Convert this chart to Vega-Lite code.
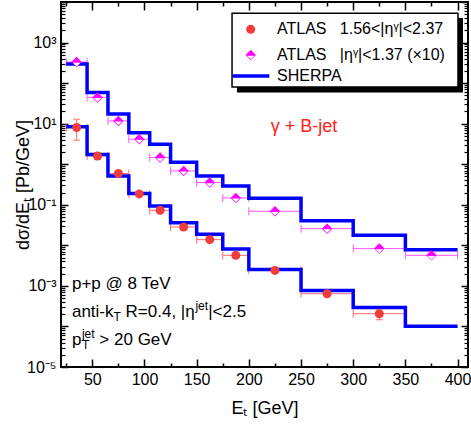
{
  "$schema": "https://vega.github.io/schema/vega-lite/v6.json",
  "width": 407,
  "height": 365,
  "autosize": {"type": "none"},
  "padding": {"left": 61, "top": 2, "right": 3, "bottom": 62},
  "background": "white",
  "config": {
    "view": {"stroke": "black", "strokeWidth": 2},
    "font": "Liberation Sans",
    "axis": {"grid": false, "domain": false, "labelFont": "Liberation Sans", "titleFont": "Liberation Sans", "labelColor": "black", "titleColor": "black", "tickColor": "black", "titleFontWeight": "normal"}
  },
  "datasets": {
    "bins": [
      {"lo": 25, "hi": 45, "mid": 35, "cen": 330, "cen_lo": 300, "cen_hi": 365, "fwd": 8.05, "fwd_lo": 3.92, "fwd_hi": 12.9},
      {"lo": 45, "hi": 65, "mid": 55, "cen": 44.4, "cen_lo": 41, "cen_hi": 48, "fwd": 1.6, "fwd_lo": 1.3, "fwd_hi": 1.9},
      {"lo": 65, "hi": 85, "mid": 75, "cen": 11.7, "cen_lo": 10.8, "cen_hi": 12.6, "fwd": 0.589, "fwd_lo": 0.52, "fwd_hi": 0.66},
      {"lo": 85, "hi": 105, "mid": 95, "cen": 4.14, "cen_lo": 3.8, "cen_hi": 4.5, "fwd": 0.185, "fwd_lo": 0.168, "fwd_hi": 0.203},
      {"lo": 105, "hi": 125, "mid": 115, "cen": 1.46, "cen_lo": 1.34, "cen_hi": 1.58, "fwd": 0.0731, "fwd_lo": 0.066, "fwd_hi": 0.081},
      {"lo": 125, "hi": 150, "mid": 137.5, "cen": 0.684, "cen_lo": 0.63, "cen_hi": 0.74, "fwd": 0.0283, "fwd_lo": 0.025, "fwd_hi": 0.032},
      {"lo": 150, "hi": 175, "mid": 162.5, "cen": 0.353, "cen_lo": 0.325, "cen_hi": 0.382, "fwd": 0.0138, "fwd_lo": 0.0124, "fwd_hi": 0.0152},
      {"lo": 175, "hi": 200, "mid": 187.5, "cen": 0.147, "cen_lo": 0.135, "cen_hi": 0.159, "fwd": 0.00566, "fwd_lo": 0.0051, "fwd_hi": 0.0062},
      {"lo": 200, "hi": 250, "mid": 225, "cen": 0.0692, "cen_lo": 0.064, "cen_hi": 0.075, "fwd": 0.00241, "fwd_lo": 0.00222, "fwd_hi": 0.0026},
      {"lo": 250, "hi": 300, "mid": 275, "cen": 0.0258, "cen_lo": 0.0235, "cen_hi": 0.0282, "fwd": 0.000641, "fwd_lo": 0.00058, "fwd_hi": 0.0007},
      {"lo": 300, "hi": 350, "mid": 325, "cen": 0.0083, "cen_lo": 0.0071, "cen_hi": 0.0097, "fwd": 0.000206, "fwd_lo": 0.000146, "fwd_hi": 0.000273},
      {"lo": 350, "hi": 400, "mid": 375, "cen": 0.00566, "cen_lo": 0.0050, "cen_hi": 0.0064, "fwd": null, "fwd_lo": null, "fwd_hi": null}
    ],
    "steps": [
      {"E": 25, "up": 294, "dn": 8.34},
      {"E": 45, "up": 58.9, "dn": 1.74},
      {"E": 65, "up": 17.2, "dn": 0.514},
      {"E": 85, "up": 5.93, "dn": 0.189},
      {"E": 105, "up": 3.12, "dn": 0.0933},
      {"E": 125, "up": 1.12, "dn": 0.0361},
      {"E": 150, "up": 0.514, "dn": 0.0187},
      {"E": 175, "up": 0.291, "dn": 0.00811},
      {"E": 200, "up": 0.1445, "dn": 0.00255},
      {"E": 250, "up": 0.0405, "dn": 0.000774},
      {"E": 300, "up": 0.01766, "dn": 0.000294},
      {"E": 350, "up": 0.00783, "dn": 0.0001016},
      {"E": 400, "up": 0.00783, "dn": 0.0001016}
    ],
    "one": [{}]
  },
  "resolve": {"scale": {"x": "shared", "y": "shared"}, "axis": {"x": "independent", "y": "independent"}},
  "layer": [
    {
      "data": {"name": "bins"},
      "mark": {"type": "rule", "color": "#ff6b6b", "strokeWidth": 1},
      "encoding": {
        "x": {"field": "lo", "type": "quantitative", "scale": {"domain": [20, 410], "nice": false, "zero": false},
          "axis": {"orient": "bottom", "values": [50, 100, 150, 200, 250, 300, 350, 400], "tickSize": -8, "tickWidth": 1.5, "labelFontSize": 16, "labelPadding": 12, "title": "Eₜ [GeV]", "titleFontSize": 18, "titlePadding": 12}},
        "x2": {"field": "hi"},
        "y": {"field": "fwd", "type": "quantitative", "scale": {"type": "log", "domain": [0.00001, 10000], "nice": false},
          "axis": {"orient": "left", "values": [0.00001, 0.0001, 0.001, 0.01, 0.1, 1, 10, 100, 1000, 10000], "tickSize": -7, "tickWidth": 1.5, "labelFontSize": 16, "labelPadding": 12,
            "labelExpr": "round(log(datum.value)/LN10)==3?'10³':round(log(datum.value)/LN10)==1?'10¹':round(log(datum.value)/LN10)==-1?'10⁻¹':round(log(datum.value)/LN10)==-3?'10⁻³':round(log(datum.value)/LN10)==-5?'10⁻⁵':''",
            "title": "dσ/dEₜ [Pb/GeV]", "titleFontSize": 18, "titlePadding": -6}}
      }
    },
    {
      "data": {"name": "bins"},
      "mark": {"type": "rule", "color": "#ff55ff", "strokeWidth": 1},
      "encoding": {
        "x": {"field": "lo", "type": "quantitative", "scale": {"domain": [20, 410], "nice": false, "zero": false},
          "axis": {"orient": "bottom", "values": [25, 75, 125, 175, 225, 275, 325, 375], "tickSize": -4, "tickWidth": 1.5, "labels": false, "title": null}},
        "x2": {"field": "hi"},
        "y": {"field": "cen", "type": "quantitative", "scale": {"type": "log", "domain": [0.00001, 10000], "nice": false},
          "axis": {"orient": "left", "values": [0.00002,0.00003,0.00004,0.00005,0.00006,0.00007,0.00008,0.00009,0.0002,0.0003,0.0004,0.0005,0.0006,0.0007,0.0008,0.0009,0.002,0.003,0.004,0.005,0.006,0.007,0.008,0.009,0.02,0.03,0.04,0.05,0.06,0.07,0.08,0.09,0.2,0.3,0.4,0.5,0.6,0.7,0.8,0.9,2,3,4,5,6,7,8,9,20,30,40,50,60,70,80,90,200,300,400,500,600,700,800,900,2000,3000,4000,5000,6000,7000,8000,9000], "tickSize": -4, "tickWidth": 1.2, "labels": false, "title": null}}
      }
    },
    {
      "data": {"name": "bins"},
      "transform": [{"fold": ["lo", "hi"], "as": ["edge", "ex"]}],
      "mark": {"type": "point", "shape": "M0,-1L0,1", "size": 64, "filled": false, "stroke": "#ff6b6b", "strokeWidth": 1, "opacity": 1},
      "encoding": {
        "x": {"field": "ex", "type": "quantitative", "axis": null},
        "y": {"field": "fwd", "type": "quantitative", "axis": null}
      }
    },
    {
      "data": {"name": "bins"},
      "transform": [{"fold": ["lo", "hi"], "as": ["edge", "ex"]}],
      "mark": {"type": "point", "shape": "M0,-1L0,1", "size": 64, "filled": false, "stroke": "#ff55ff", "strokeWidth": 1, "opacity": 1},
      "encoding": {
        "x": {"field": "ex", "type": "quantitative", "axis": null},
        "y": {"field": "cen", "type": "quantitative", "axis": null}
      }
    },
    {
      "data": {"name": "bins"},
      "mark": {"type": "rule", "color": "#ff6b6b", "strokeWidth": 1},
      "encoding": {
        "x": {"field": "mid", "type": "quantitative", "axis": null},
        "y": {"field": "fwd_lo", "type": "quantitative", "axis": null},
        "y2": {"field": "fwd_hi"}
      }
    },
    {
      "data": {"name": "bins"},
      "transform": [{"fold": ["fwd_lo", "fwd_hi"], "as": ["end", "ey"]}],
      "mark": {"type": "point", "shape": "M-1,0L1,0", "size": 49, "filled": false, "stroke": "#ff6b6b", "strokeWidth": 1, "opacity": 1},
      "encoding": {
        "x": {"field": "mid", "type": "quantitative", "axis": null},
        "y": {"field": "ey", "type": "quantitative", "axis": null}
      }
    },
    {
      "data": {"name": "bins"},
      "mark": {"type": "rule", "color": "#ff55ff", "strokeWidth": 1},
      "encoding": {
        "x": {"field": "mid", "type": "quantitative", "axis": null},
        "y": {"field": "cen_lo", "type": "quantitative", "axis": null},
        "y2": {"field": "cen_hi"}
      }
    },
    {
      "data": {"name": "steps"},
      "mark": {"type": "line", "interpolate": "step-after", "color": "#0000ff", "strokeWidth": 3.5, "strokeCap": "butt", "strokeJoin": "miter"},
      "encoding": {
        "x": {"field": "E", "type": "quantitative", "scale": {"domain": [20, 410], "nice": false, "zero": false},
          "axis": {"orient": "top", "values": [50, 100, 150, 200, 250, 300, 350, 400], "tickSize": -8, "tickWidth": 1.5, "labels": false, "title": null}},
        "y": {"field": "up", "type": "quantitative", "scale": {"type": "log", "domain": [0.00001, 10000], "nice": false},
          "axis": {"orient": "right", "values": [0.00001, 0.0001, 0.001, 0.01, 0.1, 1, 10, 100, 1000, 10000], "tickSize": -7, "tickWidth": 1.5, "labels": false, "title": null}}
      }
    },
    {
      "data": {"name": "steps"},
      "mark": {"type": "line", "interpolate": "step-after", "color": "#0000ff", "strokeWidth": 3.5, "strokeCap": "butt", "strokeJoin": "miter"},
      "encoding": {
        "x": {"field": "E", "type": "quantitative", "scale": {"domain": [20, 410], "nice": false, "zero": false},
          "axis": {"orient": "top", "values": [25, 75, 125, 175, 225, 275, 325, 375], "tickSize": -4, "tickWidth": 1.5, "labels": false, "title": null}},
        "y": {"field": "dn", "type": "quantitative", "scale": {"type": "log", "domain": [0.00001, 10000], "nice": false},
          "axis": {"orient": "right", "values": [0.00002,0.00003,0.00004,0.00005,0.00006,0.00007,0.00008,0.00009,0.0002,0.0003,0.0004,0.0005,0.0006,0.0007,0.0008,0.0009,0.002,0.003,0.004,0.005,0.006,0.007,0.008,0.009,0.02,0.03,0.04,0.05,0.06,0.07,0.08,0.09,0.2,0.3,0.4,0.5,0.6,0.7,0.8,0.9,2,3,4,5,6,7,8,9,20,30,40,50,60,70,80,90,200,300,400,500,600,700,800,900,2000,3000,4000,5000,6000,7000,8000,9000], "tickSize": -4, "tickWidth": 1.2, "labels": false, "title": null}}
      }
    },
    {
      "data": {"name": "bins"},
      "mark": {"type": "point", "shape": "circle", "filled": true, "size": 81, "color": "#f23c3c", "opacity": 1},
      "encoding": {
        "x": {"field": "mid", "type": "quantitative", "axis": null},
        "y": {"field": "fwd", "type": "quantitative", "axis": null}
      }
    },
    {
      "data": {"name": "bins"},
      "mark": {"type": "point", "shape": "diamond", "filled": true, "size": 110, "color": "#ff00ff", "opacity": 1},
      "encoding": {
        "x": {"field": "mid", "type": "quantitative", "axis": null},
        "y": {"field": "cen", "type": "quantitative", "axis": null}
      }
    },
    {
      "data": {"name": "bins"},
      "mark": {"type": "point", "shape": "M-0.7,0.12L0,0.82L0.7,0.12Z", "filled": true, "size": 110, "color": "white", "opacity": 1},
      "encoding": {
        "x": {"field": "mid", "type": "quantitative", "axis": null},
        "y": {"field": "cen", "type": "quantitative", "axis": null}
      }
    },
    {
      "data": {"name": "one"},
      "mark": {"type": "rect", "color": "black"},
      "encoding": {
        "x": {"datum": 188.6, "type": "quantitative", "axis": null},
        "x2": {"datum": 405.2},
        "y": {"datum": 4034, "type": "quantitative", "axis": null},
        "y2": {"datum": 58.7}
      }
    },
    {
      "data": {"name": "one"},
      "mark": {"type": "rect", "fill": "white", "stroke": "black", "strokeWidth": 1.5},
      "encoding": {
        "x": {"datum": 183.9, "type": "quantitative", "axis": null},
        "x2": {"datum": 400.4},
        "y": {"datum": 5260, "type": "quantitative", "axis": null},
        "y2": {"datum": 80.2}
      }
    },
    {
      "data": {"name": "one"},
      "mark": {"type": "point", "shape": "circle", "filled": true, "size": 81, "color": "#f23c3c", "opacity": 1},
      "encoding": {
        "x": {"datum": 201.8, "type": "quantitative", "axis": null},
        "y": {"datum": 2120, "type": "quantitative", "axis": null}
      }
    },
    {
      "data": {"name": "one"},
      "mark": {"type": "point", "shape": "diamond", "filled": true, "size": 110, "color": "#ff00ff", "opacity": 1},
      "encoding": {
        "x": {"datum": 201.8, "type": "quantitative", "axis": null},
        "y": {"datum": 493, "type": "quantitative", "axis": null}
      }
    },
    {
      "data": {"name": "one"},
      "mark": {"type": "point", "shape": "M-0.7,0.12L0,0.82L0.7,0.12Z", "filled": true, "size": 110, "color": "white", "opacity": 1},
      "encoding": {
        "x": {"datum": 201.8, "type": "quantitative", "axis": null},
        "y": {"datum": 493, "type": "quantitative", "axis": null}
      }
    },
    {
      "data": {"name": "one"},
      "mark": {"type": "rule", "color": "#0000ff", "strokeWidth": 3.5},
      "encoding": {
        "x": {"datum": 184.5, "type": "quantitative", "axis": null},
        "x2": {"datum": 219.6},
        "y": {"datum": 150, "type": "quantitative", "axis": null}
      }
    },
    {
      "data": {"name": "one"},
      "mark": {"type": "text", "align": "left", "baseline": "middle", "fontSize": 16, "font": "Liberation Sans", "color": "black"},
      "encoding": {
        "x": {"datum": 227, "type": "quantitative", "axis": null},
        "y": {"datum": 2120, "type": "quantitative", "axis": null},
        "text": {"value": "ATLAS\u00a0\u00a0\u00a01.56<|ηᵞ|<2.37"}
      }
    },
    {
      "data": {"name": "one"},
      "mark": {"type": "text", "align": "left", "baseline": "middle", "fontSize": 16, "font": "Liberation Sans", "color": "black"},
      "encoding": {
        "x": {"datum": 227, "type": "quantitative", "axis": null},
        "y": {"datum": 493, "type": "quantitative", "axis": null},
        "text": {"value": "ATLAS\u00a0\u00a0\u00a0|ηᵞ|<1.37 (×10)"}
      }
    },
    {
      "data": {"name": "one"},
      "mark": {"type": "text", "align": "left", "baseline": "middle", "fontSize": 16, "font": "Liberation Sans", "color": "black"},
      "encoding": {
        "x": {"datum": 227, "type": "quantitative", "axis": null},
        "y": {"datum": 150, "type": "quantitative", "axis": null},
        "text": {"value": "SHERPA"}
      }
    },
    {
      "data": {"name": "one"},
      "mark": {"type": "text", "align": "left", "baseline": "middle", "fontSize": 18, "font": "Liberation Sans", "color": "#ff2020"},
      "encoding": {
        "x": {"datum": 220.9, "type": "quantitative", "axis": null},
        "y": {"datum": 8.28, "type": "quantitative", "axis": null},
        "text": {"value": "γ + B-jet"}
      }
    },
    {
      "data": {"name": "one"},
      "mark": {"type": "text", "align": "left", "baseline": "alphabetic", "fontSize": 17, "font": "Liberation Sans", "color": "black"},
      "encoding": {
        "x": {"datum": 30.5, "type": "quantitative", "axis": null},
        "y": {"datum": 0.000839, "type": "quantitative", "axis": null},
        "text": {"value": "p+p @ 8 TeV"}
      }
    },
    {
      "data": {"name": "one"},
      "mark": {"type": "text", "align": "left", "baseline": "alphabetic", "fontSize": 17, "font": "Liberation Sans", "color": "black"},
      "encoding": {
        "x": {"datum": 30.5, "type": "quantitative", "axis": null},
        "y": {"datum": 0.0001714, "type": "quantitative", "axis": null},
        "text": {"value": "anti-k"}
      }
    },
    {
      "data": {"name": "one"},
      "mark": {"type": "text", "align": "left", "baseline": "alphabetic", "fontSize": 12, "font": "Liberation Sans", "color": "black", "dx": 41.6, "dy": 4},
      "encoding": {
        "x": {"datum": 30.5, "type": "quantitative", "axis": null},
        "y": {"datum": 0.0001714, "type": "quantitative", "axis": null},
        "text": {"value": "T"}
      }
    },
    {
      "data": {"name": "one"},
      "mark": {"type": "text", "align": "left", "baseline": "alphabetic", "fontSize": 17, "font": "Liberation Sans", "color": "black", "dx": 53.6},
      "encoding": {
        "x": {"datum": 30.5, "type": "quantitative", "axis": null},
        "y": {"datum": 0.0001714, "type": "quantitative", "axis": null},
        "text": {"value": "R=0.4, |η"}
      }
    },
    {
      "data": {"name": "one"},
      "mark": {"type": "text", "align": "left", "baseline": "alphabetic", "fontSize": 12, "font": "Liberation Sans", "color": "black", "dx": 123.5, "dy": -7},
      "encoding": {
        "x": {"datum": 30.5, "type": "quantitative", "axis": null},
        "y": {"datum": 0.0001714, "type": "quantitative", "axis": null},
        "text": {"value": "jet"}
      }
    },
    {
      "data": {"name": "one"},
      "mark": {"type": "text", "align": "left", "baseline": "alphabetic", "fontSize": 17, "font": "Liberation Sans", "color": "black", "dx": 136.2},
      "encoding": {
        "x": {"datum": 30.5, "type": "quantitative", "axis": null},
        "y": {"datum": 0.0001714, "type": "quantitative", "axis": null},
        "text": {"value": "|<2.5"}
      }
    },
    {
      "data": {"name": "one"},
      "mark": {"type": "text", "align": "left", "baseline": "alphabetic", "fontSize": 17, "font": "Liberation Sans", "color": "black"},
      "encoding": {
        "x": {"datum": 30.5, "type": "quantitative", "axis": null},
        "y": {"datum": 0.0000349, "type": "quantitative", "axis": null},
        "text": {"value": "p"}
      }
    },
    {
      "data": {"name": "one"},
      "mark": {"type": "text", "align": "left", "baseline": "alphabetic", "fontSize": 12, "font": "Liberation Sans", "color": "black", "dx": 10, "dy": -7},
      "encoding": {
        "x": {"datum": 30.5, "type": "quantitative", "axis": null},
        "y": {"datum": 0.0000349, "type": "quantitative", "axis": null},
        "text": {"value": "jet"}
      }
    },
    {
      "data": {"name": "one"},
      "mark": {"type": "text", "align": "left", "baseline": "alphabetic", "fontSize": 12, "font": "Liberation Sans", "color": "black", "dx": 10, "dy": 4},
      "encoding": {
        "x": {"datum": 30.5, "type": "quantitative", "axis": null},
        "y": {"datum": 0.0000349, "type": "quantitative", "axis": null},
        "text": {"value": "T"}
      }
    },
    {
      "data": {"name": "one"},
      "mark": {"type": "text", "align": "left", "baseline": "alphabetic", "fontSize": 17, "font": "Liberation Sans", "color": "black", "dx": 27.4},
      "encoding": {
        "x": {"datum": 30.5, "type": "quantitative", "axis": null},
        "y": {"datum": 0.0000349, "type": "quantitative", "axis": null},
        "text": {"value": "> 20 GeV"}
      }
    }
  ]
}
